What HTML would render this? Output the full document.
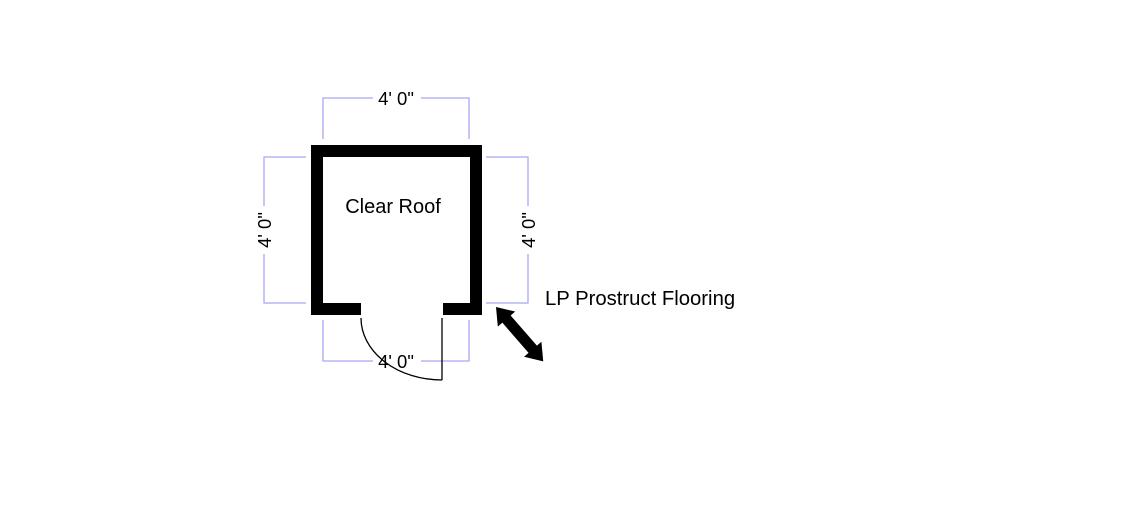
<!DOCTYPE html>
<html><head><style>html,body{margin:0;padding:0;background:#fff;}svg{display:block}</style></head>
<body>
<svg width="1135" height="529" viewBox="0 0 1135 529" xmlns="http://www.w3.org/2000/svg" font-family="Liberation Sans, Arial, sans-serif">
<g stroke="#a8a8f4" stroke-width="1.3" fill="none">
<polyline points="323,139 323,98 469,98 469,139"/>
<polyline points="306,157 264,157 264,303 306,303"/>
<polyline points="486,157 528,157 528,303 486,303"/>
<polyline points="323,320 323,361 469,361 469,320"/>
</g>
<g font-size="18.5" fill="#000" text-anchor="middle">
<rect x="373" y="88" width="48" height="20" fill="#fff"/>
<text x="396" y="105">4' 0"</text>
<rect x="254" y="206" width="20" height="48" fill="#fff"/>
<text transform="translate(271,230) rotate(-90)">4' 0"</text>
<rect x="518" y="206" width="20" height="48" fill="#fff"/>
<text transform="translate(535,230) rotate(-90)">4' 0"</text>
<rect x="373" y="351" width="48" height="20" fill="#fff"/>
<text x="396" y="368">4' 0"</text>
</g>
<path d="M311,145 H482 V315 H443 V303 H470 V157 H323 V303 H361 V315 H311 Z" fill="#000"/>
<g stroke="#000" stroke-width="1.3" fill="none">
<line x1="442" y1="318" x2="442" y2="380"/>
<path d="M361,318 A81,62 0 0 0 442,380"/>
</g>
<text x="393" y="213" font-size="20" text-anchor="middle">Clear Roof</text>
<text x="545" y="305" font-size="20.3">LP Prostruct Flooring</text>
<g transform="translate(496,307) rotate(49)">
<polygon points="0,0 16,-11.5 16,-5.5 56,-5.5 56,-11.5 72,0 56,11.5 56,5.5 16,5.5 16,11.5" fill="#000"/>
</g>
</svg>
</body></html>
